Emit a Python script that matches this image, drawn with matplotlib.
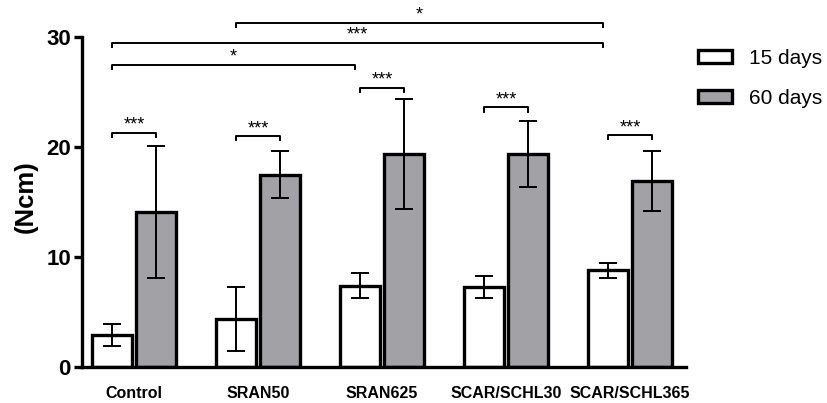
import numpy as np
import matplotlib
matplotlib.use("Agg")
import matplotlib.pyplot as plt

plt.rcParams['font.family'] = ['Liberation Sans', 'DejaVu Sans']

groups = ['Control', 'SRAN50', 'SRAN625', 'SCAR/SCHL30', 'SCAR/SCHL365']
mean_15 = [2.9, 4.4, 7.4, 7.3, 8.8]
sd_15 = [1.0, 2.9, 1.15, 1.0, 0.7]
mean_60 = [14.1, 17.5, 19.4, 19.4, 16.9]
sd_60 = [6.0, 2.1, 5.0, 3.0, 2.7]

# pair brackets (15 vs 60 days in each group)
pair_h = [21.3, 21.0, 25.4, 23.6, 21.1]
pair_lab = ['***', '***', '***', '***', '***']
# long brackets between 15-day bars
long_from = [0, 0, 1]
long_to = [2, 4, 4]
long_h = [27.5, 29.5, 31.3]
long_lab = ['*', '***', '*']

fig = plt.figure(figsize=(8.27, 4.03), dpi=100)
ax = fig.add_axes([82/827, 36/403, 604/827, 357/403])

x = np.arange(len(groups))
w = 0.32
off = 0.177
lw = 2.4
ax.bar(x - off, mean_15, w, color='white', edgecolor='black', linewidth=lw, label='15 days', zorder=2)
ax.bar(x + off, mean_60, w, color='#a2a2a6', edgecolor='black', linewidth=lw, label='60 days', zorder=2)
ax.errorbar(x - off, mean_15, yerr=sd_15, fmt='none', ecolor='black', elinewidth=1.4, capsize=6.5, capthick=1.4, zorder=3)
ax.errorbar(x + off, mean_60, yerr=sd_60, fmt='none', ecolor='black', elinewidth=1.4, capsize=6.5, capthick=1.4, zorder=3)

tick = 0.4
for i in range(len(groups)):
    x1, x2, h = x[i] - off, x[i] + off, pair_h[i]
    ax.plot([x1, x1, x2, x2], [h - tick, h, h, h - tick], color='black', lw=1.4, clip_on=False)
    ax.text((x1 + x2) / 2, h - 0.1, pair_lab[i], ha='center', va='bottom', fontsize=13)

for a, b, h, lab in zip(long_from, long_to, long_h, long_lab):
    x1, x2 = x[a] - off, x[b] - off - 0.04
    ax.plot([x1, x1, x2, x2], [h - tick, h, h, h - tick], color='black', lw=1.4, clip_on=False)
    ax.text((x1 + x2) / 2, h - 0.1, lab, ha='center', va='bottom', fontsize=13)

ax.set_xlim(-0.42, 4.45)
ax.set_ylim(0, 357/11)
ax.set_yticks([0, 10, 20, 30])
ax.spines['left'].set_bounds(0, 30)
for s in ['top', 'right']:
    ax.spines[s].set_visible(False)
for s in ['left', 'bottom']:
    ax.spines[s].set_linewidth(2.4)
ax.tick_params(axis='y', length=6, width=2.4, labelsize=16, pad=2)
ax.tick_params(axis='x', length=0, labelsize=11.5, pad=14)
ax.set_xticks(x)
ax.set_xticklabels(groups, fontweight='bold')
for t in ax.get_yticklabels():
    t.set_fontweight('bold')
ax.set_ylabel('(Ncm)', fontsize=18.5, fontweight='bold', va='center')
ax.yaxis.set_label_coords((26 - 82) / 604, (367 - 197) / 357)

ax.legend(loc='upper left', bbox_to_anchor=(698/827, 1 - 49/403), bbox_transform=fig.transFigure,
          frameon=False, fontsize=15, handlelength=1.65, handleheight=0.62, labelspacing=1.0,
          handletextpad=0.8, borderpad=0, borderaxespad=0)

fig.savefig('out.png', dpi=100)
